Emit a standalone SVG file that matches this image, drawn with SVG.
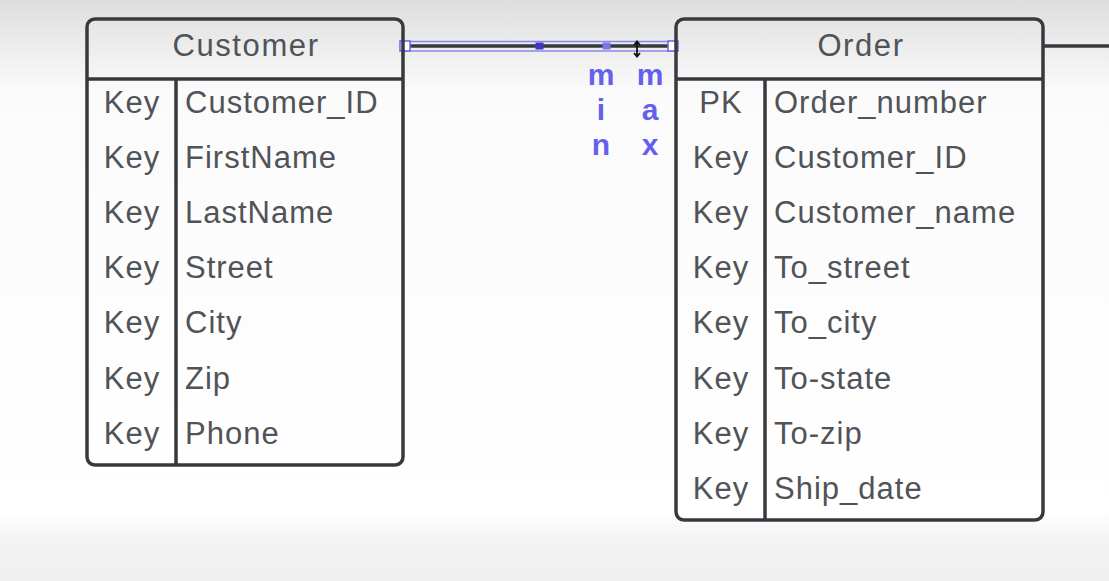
<svg xmlns="http://www.w3.org/2000/svg" width="1109" height="581" viewBox="0 0 1109 581">
<defs>
<linearGradient id="bg" x1="0" y1="0" x2="0" y2="1">
<stop offset="0" stop-color="#dedede"/>
<stop offset="0.16" stop-color="#fbfbfb"/>
<stop offset="0.88" stop-color="#ffffff"/>
<stop offset="0.93" stop-color="#f3f3f3"/>
<stop offset="1" stop-color="#f0f0f0"/>
</linearGradient>
<style>
.box{fill:none;stroke:#363a3f;stroke-width:3.5}
.ln{stroke:#363a3f;stroke-width:3.5;fill:none}
.t{font-family:"Liberation Sans",Arial,sans-serif;font-size:31px;letter-spacing:1px;fill:#505357}
.h{font-family:"Liberation Sans",Arial,sans-serif;font-size:31px;letter-spacing:1.6px;fill:#505357;text-anchor:middle}
.k{text-anchor:middle}
.lbl{font-family:"Liberation Sans",Arial,sans-serif;font-size:30px;font-weight:bold;fill:#6460ee;text-anchor:middle}
.hd{fill:#ffffff;stroke:#6a66e8;stroke-width:1.5}
</style>
</defs>
<rect width="1109" height="581" fill="url(#bg)"/>

<g id="connectors">
<line class="ln" x1="403" y1="46" x2="676" y2="46"/>
<line class="ln" x1="1043" y1="46" x2="1109" y2="46"/>
<rect x="405" y="41.5" width="268" height="9.5" fill="none" stroke="#8a86ee" stroke-width="1.5"/>
<rect class="hd" x="400" y="41" width="10" height="10"/>
<rect class="hd" x="668" y="41" width="10" height="10"/>
<rect x="535.5" y="42.5" width="8" height="7" fill="#3e3ac0"/>
<rect x="602.5" y="42.5" width="8" height="7" fill="#7a76e6"/>
<path d="M637 42 L637 56 M634 45 L637 41.5 L640 45 M634 53 L637 56.5 L640 53" stroke="#111" stroke-width="1.8" fill="none"/>
<text class="lbl" x="601" y="85">m</text>
<text class="lbl" x="601" y="120">i</text>
<text class="lbl" x="601" y="155">n</text>
<text class="lbl" x="650" y="85">m</text>
<text class="lbl" x="650" y="120">a</text>
<text class="lbl" x="650" y="155">x</text>
</g>

<g id="customer">
<rect class="box" x="87" y="19" width="316" height="446" rx="8"/>
<line class="ln" x1="87" y1="79" x2="403" y2="79"/>
<line class="ln" x1="176" y1="79" x2="176" y2="465"/>
<text class="h" x="246" y="56">Customer</text>
<text class="t k" x="132" y="113">Key</text><text class="t" x="185" y="113">Customer_ID</text>
<text class="t k" x="132" y="168">Key</text><text class="t" x="185" y="168">FirstName</text>
<text class="t k" x="132" y="223">Key</text><text class="t" x="185" y="223">LastName</text>
<text class="t k" x="132" y="278">Key</text><text class="t" x="185" y="278">Street</text>
<text class="t k" x="132" y="333">Key</text><text class="t" x="185" y="333">City</text>
<text class="t k" x="132" y="389">Key</text><text class="t" x="185" y="389">Zip</text>
<text class="t k" x="132" y="444">Key</text><text class="t" x="185" y="444">Phone</text>
</g>

<g id="order">
<rect class="box" x="676" y="19" width="367" height="501" rx="8"/>
<line class="ln" x1="676" y1="79" x2="1043" y2="79"/>
<line class="ln" x1="765" y1="79" x2="765" y2="520"/>
<text class="h" x="861" y="56">Order</text>
<text class="t k" x="721" y="113">PK</text><text class="t" x="774" y="113">Order_number</text>
<text class="t k" x="721" y="168">Key</text><text class="t" x="774" y="168">Customer_ID</text>
<text class="t k" x="721" y="223">Key</text><text class="t" x="774" y="223">Customer_name</text>
<text class="t k" x="721" y="278">Key</text><text class="t" x="774" y="278">To_street</text>
<text class="t k" x="721" y="333">Key</text><text class="t" x="774" y="333">To_city</text>
<text class="t k" x="721" y="389">Key</text><text class="t" x="774" y="389">To-state</text>
<text class="t k" x="721" y="444">Key</text><text class="t" x="774" y="444">To-zip</text>
<text class="t k" x="721" y="499">Key</text><text class="t" x="774" y="499">Ship_date</text>
</g>
</svg>
